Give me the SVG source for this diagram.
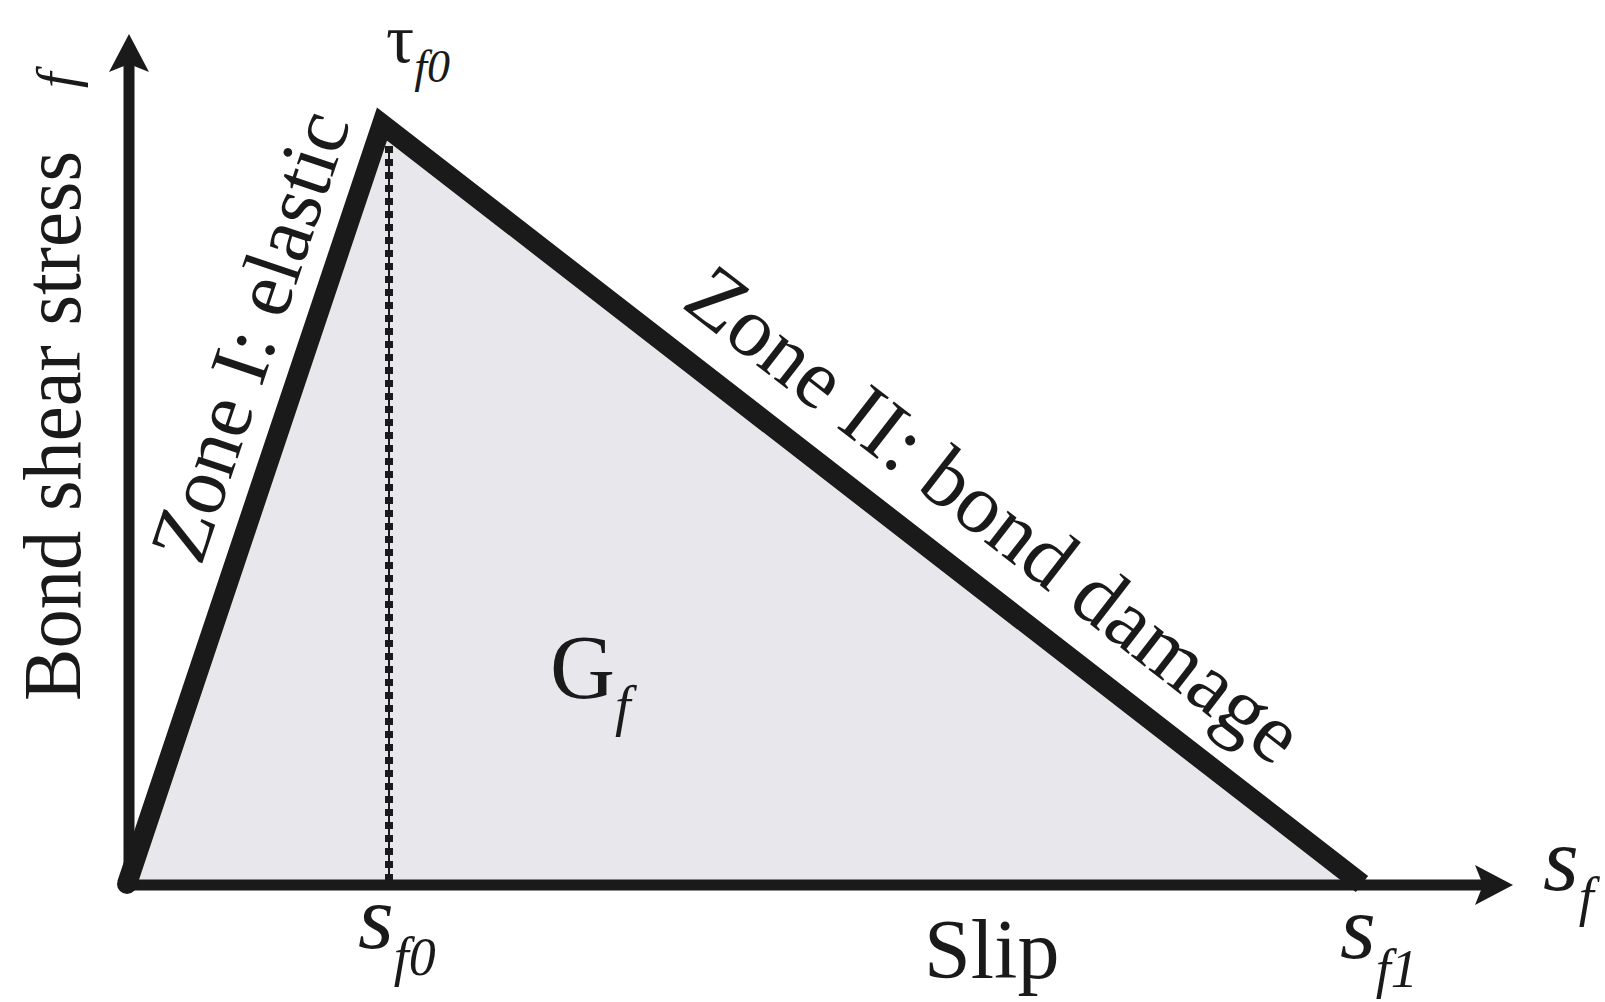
<svg xmlns="http://www.w3.org/2000/svg" width="1605" height="1002" viewBox="0 0 1605 1002">
<defs>
<style>
.t{font-family:"Liberation Serif","Times New Roman",serif;fill:#1a1a1a}
.i{font-style:italic}
.axis{stroke:#1a1a1a;stroke-width:11;fill:none}
.curve{stroke:#1a1a1a;stroke-width:20;fill:none;stroke-linejoin:miter;stroke-miterlimit:10;stroke-linecap:butt}
</style>
<marker id="arr" viewBox="0 -21 40 42" refX="8" refY="0" markerWidth="40" markerHeight="42" markerUnits="userSpaceOnUse" orient="auto">
<path d="M0,-20 L38,0 L0,20 L8,0 Z" fill="#1a1a1a"/>
</marker>
</defs>
<rect width="1605" height="1002" fill="#ffffff"/>
<g id="area">
<polygon points="127,884 382,124 1362,884" fill="#e8e8ec"/>
</g>
<g id="connectors">
<line class="axis" x1="129" y1="884" x2="129" y2="64" marker-end="url(#arr)"/>
<line class="axis" x1="127" y1="885" x2="1483" y2="885" marker-end="url(#arr)"/>
<line x1="389" y1="146" x2="389" y2="882" stroke="#1a1a1a" stroke-width="2"/>
<line x1="389" y1="146" x2="389" y2="882" stroke="#1a1a1a" stroke-width="8" stroke-dasharray="7 6"/>
<polyline class="curve" points="127,884 382,124 1362,884"/>
<circle cx="127" cy="884" r="10" fill="#1a1a1a"/>
</g>
<g id="labels">
<text class="t" transform="translate(80,701) rotate(-90)" font-size="82" textLength="550" lengthAdjust="spacingAndGlyphs">Bond shear stress</text>
<text class="t i" transform="translate(76,88) rotate(-90)" font-size="56">f</text>
<text class="t" x="386" y="62" font-size="70">τ<tspan class="i" font-size="46" dy="20">f0</tspan></text>
<text class="t" transform="translate(201,567) rotate(-71.4)" font-size="82">Zone I: elastic</text>
<text class="t" transform="translate(680,306) rotate(37.8)" font-size="85">Zone II: bond damage</text>
<text class="t" x="550" y="698" font-size="90">G<tspan class="i" font-size="56" dy="27">f</tspan></text>
<text class="t i" x="358" y="948" font-size="92">s<tspan font-size="54" dy="27">f0</tspan></text>
<text class="t" x="924" y="978" font-size="84">Slip</text>
<text class="t i" x="1340" y="958" font-size="92">s<tspan font-size="54" dy="29">f1</tspan></text>
<text class="t i" x="1543" y="890" font-size="92">s<tspan font-size="54" dy="25">f</tspan></text>
</g>
</svg>
